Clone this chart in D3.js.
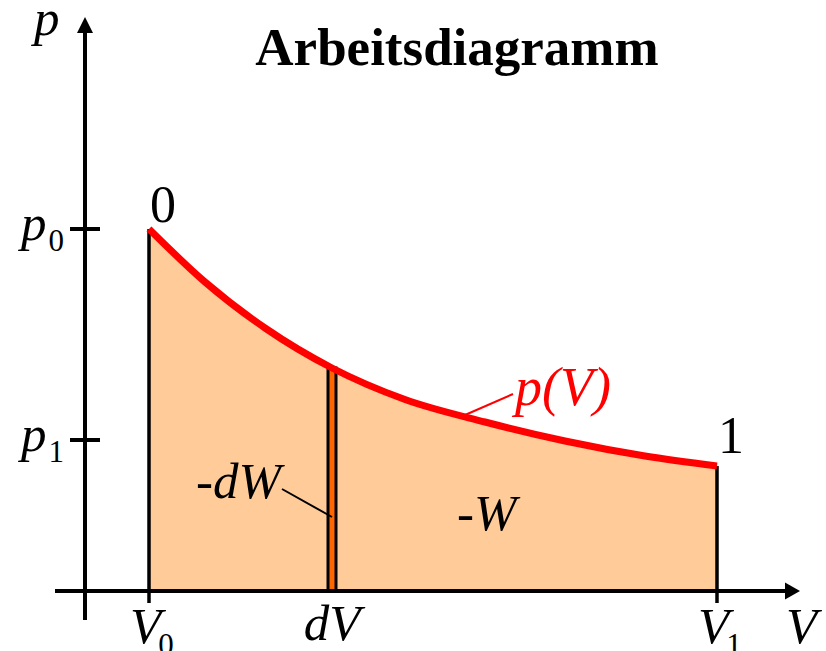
<!DOCTYPE html>
<html>
<head>
<meta charset="utf-8">
<script src="https://cdn.jsdelivr.net/npm/d3@7/dist/d3.min.js"></script>
<style>
  html, body { margin: 0; padding: 0; background: #fff; }
  svg { display: block; }
  text { font-family: "Liberation Serif", "Times New Roman", Times, serif; }
</style>
</head>
<body>
<svg id="chart" width="826" height="651"></svg>
<script>
// Isotherm p(V) sampled along the expansion from state 0 to state 1
const volume   = [64, 120, 180, 247, 320, 400, 480, 560, 632];
const pressure = [362, 309, 263, 223, 191.5, 169, 150, 135, 125];

// Marked states on the axes
const volumeTicks   = [{ name: "V", sub: "0", v: 64 }, { name: "V", sub: "1", v: 632 }];
const pressureTicks = [{ name: "p", sub: "0", p: 362 }, { name: "p", sub: "1", p: 151 }];

// Infinitesimal strip dV
const stripStart = 243;
const stripWidth = 8;

const svg = d3.select("#chart");

const x = d3.scaleLinear().domain([0, 715]).range([85, 800]);
const y = d3.scaleLinear().domain([0, 574]).range([591, 17]);

const pts = volume.map((v, i) => ({ v, p: pressure[i] }));
const curve = d3.curveMonotoneX;

// Work area under the curve
svg.append("path")
  .datum(pts)
  .attr("fill", "#ffcc99")
  .attr("d", d3.area().x(d => x(d.v)).y0(y(0)).y1(d => y(d.p)).curve(curve));

// Bounding verticals at V0 and V1
const first = pts[0], last = pts[pts.length - 1];
[first, last].forEach(d => {
  svg.append("line")
    .attr("x1", x(d.v)).attr("x2", x(d.v))
    .attr("y1", y(d.p)).attr("y2", y(0) + 12)
    .attr("stroke", "#000").attr("stroke-width", 3.5);
});

// Strip -dW of width dV, topped by the curve
const interp = d3.scaleLinear().domain(volume).range(pressure);
const stripTop = interp(stripStart + stripWidth / 2);
svg.append("rect")
  .attr("x", x(stripStart))
  .attr("y", y(stripTop))
  .attr("width", x(stripStart + stripWidth) - x(stripStart))
  .attr("height", y(0) - y(stripTop))
  .attr("fill", "#ff6600")
  .attr("stroke", "#000")
  .attr("stroke-width", 3);

// Curve p(V)
svg.append("path")
  .datum(pts)
  .attr("fill", "none")
  .attr("stroke", "#ff0000")
  .attr("stroke-width", 7)
  .attr("d", d3.line().x(d => x(d.v)).y(d => y(d.p)).curve(curve));

// Axes with arrowheads
svg.append("line")
  .attr("x1", 55).attr("x2", x(700)).attr("y1", y(0)).attr("y2", y(0))
  .attr("stroke", "#000").attr("stroke-width", 4);
svg.append("path")
  .attr("d", `M${x(715)},${y(0)} L${x(700)},${y(0) - 8.5} L${x(700)},${y(0) + 8.5} Z`)
  .attr("fill", "#000");
svg.append("line")
  .attr("x1", x(0)).attr("x2", x(0)).attr("y1", 620).attr("y2", y(558))
  .attr("stroke", "#000").attr("stroke-width", 4);
svg.append("path")
  .attr("d", `M${x(0)},${y(574)} L${x(0) - 8},${y(558)} L${x(0) + 8},${y(558)} Z`)
  .attr("fill", "#000");

// Pressure ticks
pressureTicks.forEach(t => {
  svg.append("line")
    .attr("x1", x(0) - 15).attr("x2", x(0) + 15)
    .attr("y1", y(t.p)).attr("y2", y(t.p))
    .attr("stroke", "#000").attr("stroke-width", 4);
  const lbl = svg.append("text")
    .attr("x", 21).attr("y", y(t.p) + 11)
    .attr("font-size", 51);
  lbl.append("tspan").attr("font-style", "italic").text(t.name);
  lbl.append("tspan").attr("font-size", 31).attr("dy", 11).attr("dx", 2).text(t.sub);
});

// Volume tick labels
volumeTicks.forEach(t => {
  const lbl = svg.append("text")
    .attr("x", x(t.v) - 19).attr("y", 643)
    .attr("font-size", 51);
  lbl.append("tspan").attr("font-style", "italic").text(t.name);
  lbl.append("tspan").attr("font-size", 31).attr("dy", 12).attr("dx", -3).text(t.sub);
});
svg.append("text")
  .attr("x", x(stripStart + stripWidth / 2)).attr("y", 640)
  .attr("text-anchor", "middle")
  .attr("font-size", 51).attr("font-style", "italic")
  .text("dV");

// Axis names
svg.append("text")
  .attr("x", 34).attr("y", 35)
  .attr("font-size", 51).attr("font-style", "italic")
  .text("p");
svg.append("text")
  .attr("x", 786).attr("y", 643)
  .attr("font-size", 51).attr("font-style", "italic")
  .text("V");

// State labels
svg.append("text")
  .attr("x", x(first.v) + 1).attr("y", 222)
  .attr("font-size", 52)
  .text("0");
svg.append("text")
  .attr("x", x(last.v) + 1).attr("y", 453)
  .attr("font-size", 52)
  .text("1");

// Curve label with leader
svg.append("line")
  .attr("x1", 465).attr("y1", 415).attr("x2", 513).attr("y2", 394)
  .attr("stroke", "#ff0000").attr("stroke-width", 2);
svg.append("text")
  .attr("x", 515).attr("y", 405)
  .attr("font-size", 54).attr("font-style", "italic")
  .attr("fill", "#ff0000")
  .text("p(V)");

// Work labels
svg.append("line")
  .attr("x1", 282).attr("y1", 489).attr("x2", 332).attr("y2", 517)
  .attr("stroke", "#000").attr("stroke-width", 2);
svg.append("text")
  .attr("x", 196).attr("y", 498)
  .attr("font-size", 51).attr("font-style", "italic")
  .text("-dW");
svg.append("text")
  .attr("x", 457).attr("y", 530)
  .attr("font-size", 51).attr("font-style", "italic")
  .text("-W");

// Title
svg.append("text")
  .attr("x", 457).attr("y", 65)
  .attr("text-anchor", "middle")
  .attr("font-size", 53).attr("font-weight", "bold")
  .text("Arbeitsdiagramm");
</script>
</body>
</html>
